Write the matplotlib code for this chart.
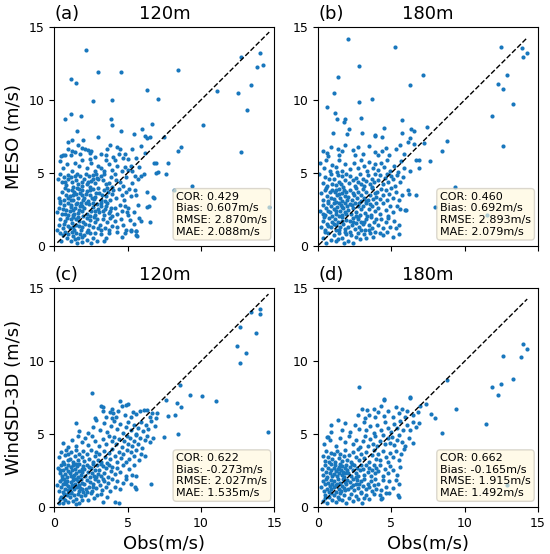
import numpy as np
import matplotlib
matplotlib.use("Agg")
import matplotlib.pyplot as plt

# (obs, model) pairs, one array per panel
pts_a = np.array([
    # y 0-1
    (0.45, 0.35), (0.6, 0.75), (0.85, 0.55), (0.35, 0.9), (0.7, 0.95), (0.95, 0.8),
    (1.1, 0.3), (1.3, 0.65), (1.45, 0.9), (1.6, 0.5), (1.75, 0.8), (1.9, 0.25), (1.2, 0.95),
    (1.55, 0.15), (1.85, 0.6), (1.4, 0.45),
    (2.05, 0.7), (2.25, 0.4), (2.4, 0.85), (2.6, 0.55), (2.75, 0.9), (2.2, 0.95), (2.9, 0.35), (2.5, 0.2),
    (3.2, 0.8), (3.5, 0.55), (3.75, 0.9), (3.35, 0.35),
    (4.3, 0.95), (4.6, 0.6), (4.8, 0.85), (5.2, 1.0), (5.6, 0.7), (5.55, 1.0),
    # y 1-2
    (0.3, 1.4), (0.55, 1.2), (0.7, 1.7), (0.9, 1.35), (0.4, 1.85), (0.65, 1.5), (0.85, 1.9), (0.2, 1.1),
    (1.05, 1.2), (1.2, 1.55), (1.35, 1.1), (1.5, 1.8), (1.65, 1.35), (1.8, 1.05), (1.95, 1.6), (1.1, 1.85),
    (1.3, 1.95), (1.45, 1.4), (1.7, 1.7), (1.85, 1.25), (1.6, 1.95), (1.25, 1.3),
    (2.1, 1.5), (2.3, 1.1), (2.45, 1.75), (2.6, 1.3), (2.8, 1.6), (2.95, 1.2), (2.2, 1.9), (2.7, 1.95),
    (2.35, 1.4), (2.9, 1.85),
    (3.1, 1.4), (3.3, 1.8), (3.45, 1.2), (3.6, 1.6), (3.8, 1.9), (3.95, 1.35), (3.2, 1.05), (3.7, 1.1),
    (4.1, 1.7), (4.3, 1.25), (4.55, 1.85), (4.7, 1.4), (4.85, 1.1),
    (5.15, 1.75), (5.4, 1.5), (5.8, 1.9), (6.5, 1.6),
    # y 2-3
    (0.3, 2.6), (0.5, 2.2), (0.65, 2.8), (0.8, 2.45), (0.95, 2.1), (0.4, 2.95), (0.55, 2.5), (0.75, 2.15),
    (0.9, 2.9), (0.2, 2.3),
    (1.05, 2.35), (1.15, 2.8), (1.3, 2.1), (1.4, 2.55), (1.55, 2.95), (1.6, 2.25), (1.75, 2.7), (1.85, 2.4),
    (1.95, 2.05), (1.1, 2.65), (1.25, 2.45), (1.45, 2.85), (1.65, 2.45), (1.8, 2.95), (1.35, 2.2), (1.9, 2.75),
    (2.05, 2.6), (2.2, 2.2), (2.35, 2.85), (2.5, 2.4), (2.65, 2.65), (2.8, 2.1), (2.95, 2.5), (2.15, 2.95),
    (2.4, 2.05), (2.6, 2.95), (2.75, 2.35), (2.9, 2.85),
    (3.05, 2.3), (3.2, 2.7), (3.35, 2.1), (3.45, 2.5), (3.6, 2.9), (3.7, 2.25), (3.85, 2.6), (3.95, 2.0),
    (3.15, 2.95), (3.5, 2.75), (3.8, 2.4), (3.3, 2.4),
    (4.1, 2.6), (4.3, 2.2), (4.45, 2.8), (4.6, 2.4), (4.8, 2.7), (4.95, 2.3),
    (5.0, 2.6), (5.4, 2.3), (5.7, 2.8), (6.3, 2.66), (6.48, 2.7),
    # y 3-4
    (0.3, 3.3), (0.5, 3.7), (0.65, 3.1), (0.8, 3.5), (0.95, 3.85), (0.4, 3.05), (0.7, 3.95), (0.9, 3.25),
    (1.05, 3.4), (1.2, 3.8), (1.3, 3.1), (1.45, 3.55), (1.6, 3.25), (1.7, 3.9), (1.85, 3.45), (1.95, 3.1),
    (1.15, 3.15), (1.35, 3.7), (1.55, 3.95), (1.75, 3.6), (1.9, 3.8), (1.25, 3.5),
    (2.05, 3.3), (2.2, 3.75), (2.3, 3.05), (2.45, 3.5), (2.6, 3.9), (2.7, 3.2), (2.85, 3.6), (2.95, 3.95),
    (2.15, 3.55), (2.55, 3.25), (2.8, 3.35), (2.4, 3.85),
    (3.05, 3.6), (3.2, 3.15), (3.35, 3.85), (3.5, 3.4), (3.65, 3.7), (3.8, 3.1), (3.95, 3.55), (3.25, 3.45),
    (3.6, 3.95), (3.45, 3.05),
    (4.0, 3.8), (4.2, 3.3), (4.4, 3.9), (4.6, 3.5), (4.75, 3.15), (4.9, 3.7),
    (5.1, 3.9), (5.2, 3.4), (5.5, 3.8), (5.6, 3.5), (6.3, 3.7), (6.7, 3.36), (6.82, 3.25),
    # y 4-5
    (0.25, 4.6), (0.5, 4.4), (0.65, 4.7), (0.8, 4.15), (0.95, 4.55), (0.4, 4.9), (0.7, 4.35), (0.9, 4.85),
    (1.1, 4.7), (1.3, 4.05), (1.45, 4.5), (1.6, 4.25), (1.75, 4.8), (1.9, 4.4), (1.2, 4.35), (1.55, 4.9),
    (1.85, 4.1), (1.4, 4.75),
    (2.05, 4.6), (2.2, 4.2), (2.35, 4.75), (2.5, 4.45), (2.65, 4.85), (2.75, 4.3), (2.9, 4.65), (2.15, 4.9),
    (2.45, 4.05), (2.6, 4.6), (2.85, 4.95), (2.3, 4.4),
    (3.0, 4.6), (3.2, 4.75), (3.3, 4.5), (3.5, 4.2), (3.7, 4.3), (3.85, 4.7), (3.95, 4.0), (3.4, 4.9),
    (4.2, 4.5), (4.5, 4.4), (4.7, 4.1), (4.1, 4.9), (4.85, 4.7),
    (5.5, 4.8), (5.9, 4.8), (5.3, 4.3), (5.7, 4.6), (6.1, 4.9), (6.9, 5.0),
    # y 5-6
    (0.35, 5.8), (0.6, 5.3), (0.85, 5.6), (1.4, 5.7), (1.7, 5.5), (1.2, 5.15), (1.9, 5.9),
    (2.5, 5.7), (2.2, 5.3), (2.8, 5.1), (2.4, 5.95),
    (3.0, 5.5), (3.4, 5.1), (3.7, 5.6), (3.9, 5.2), (3.5, 5.85), (3.2, 5.3),
    (4.3, 5.5), (4.8, 5.4), (4.1, 5.9), (4.6, 5.15), (5.0, 5.2),
    (5.2, 5.5), (5.8, 5.4), (5.3, 5.1), (5.0, 5.95),
    (6.82, 5.64), (6.95, 5.7), (7.64, 4.91), (7.75, 5.64), (7.05, 5.05),
    # y 6-7
    (0.45, 6.15), (0.6, 6.2), (0.75, 6.2), (1.1, 6.2), (0.9, 6.6),
    (1.2, 6.5), (1.4, 6.45), (1.9, 6.7), (1.6, 6.9), (1.75, 6.3),
    (2.1, 6.6), (2.3, 6.55), (2.5, 6.5), (2.4, 6.35), (2.75, 6.1),
    (3.2, 6.3), (3.5, 6.2), (3.6, 6.6), (3.8, 6.9),
    (4.0, 6.1), (4.3, 6.8), (4.5, 6.6), (4.4, 6.3), (4.7, 6.0), (4.8, 6.3), (5.6, 6.0), (5.3, 6.6),
    # sparse
    (2.16, 13.4), (2.95, 11.9), (4.55, 11.9), (1.14, 11.43), (1.45, 11.16), (8.45, 12.05),
    (12.73, 12.95), (14.05, 13.2), (13.86, 12.27), (14.25, 12.39), (13.45, 11.0), (12.55, 10.5),
    (11.07, 10.6), (13.14, 9.34), (12.73, 6.43), (10.14, 8.3), (6.32, 10.68), (7.05, 10.05),
    (3.93, 10.0), (2.64, 9.93), (1.14, 9.07), (0.75, 8.68), (1.84, 8.89), (3.86, 8.66), (3.93, 8.25),
    (1.57, 7.86), (4.55, 7.84), (2.95, 7.43), (0.91, 7.11), (1.23, 7.27), (1.98, 7.23), (5.45, 7.64),
    (5.95, 8.02), (6.64, 8.32), (6.16, 7.52), (6.3, 7.41), (6.52, 7.45), (7.5, 7.45), (5.93, 6.82),
    (6.2, 6.39), (8.41, 6.48), (8.66, 6.77), (5.9, 1.66), (8.18, 3.82), (9.36, 4.09), (14.66, 2.68),
    (5.59, 1.02), (5.23, 1.05), (5.64, 0.68), (5.0, 2.11),
])

pts_b = np.array([
    # y 0-1
    (0.3, 0.55), (0.55, 0.2), (0.7, 0.85), (0.9, 0.4), (0.45, 0.95),
    (1.1, 0.7), (1.25, 0.3), (1.45, 0.9), (1.6, 0.55), (1.75, 0.2), (1.9, 0.8), (1.35, 0.45), (1.8, 0.95),
    (2.05, 0.35), (2.25, 0.75), (2.4, 0.2), (2.55, 0.6), (2.7, 0.9), (2.85, 0.45), (2.2, 0.95),
    (3.1, 0.8), (3.3, 0.5), (3.55, 0.85), (3.75, 0.6), (3.9, 0.95),
    (4.2, 0.9), (4.45, 0.7), (4.7, 0.95), (5.1, 0.6),
    # y 1-2
    (0.2, 1.3), (0.35, 1.7), (0.5, 1.1), (0.6, 1.5), (0.75, 1.9), (0.85, 1.25), (0.95, 1.6), (0.4, 1.95),
    (0.7, 1.35),
    (1.05, 1.45), (1.15, 1.85), (1.25, 1.1), (1.35, 1.6), (1.5, 1.3), (1.6, 1.95), (1.7, 1.5), (1.8, 1.15),
    (1.9, 1.75), (1.45, 1.05), (1.2, 1.4), (1.65, 1.7),
    (2.05, 1.25), (2.15, 1.7), (2.3, 1.4), (2.4, 1.9), (2.5, 1.15), (2.6, 1.55), (2.7, 1.85), (2.8, 1.3),
    (2.9, 1.65), (2.95, 1.05), (2.35, 1.6), (2.75, 1.95),
    (3.05, 1.5), (3.2, 1.1), (3.3, 1.8), (3.45, 1.4), (3.6, 1.95), (3.7, 1.2), (3.8, 1.6), (3.95, 1.85),
    (3.5, 1.05), (3.15, 1.65),
    (4.1, 1.4), (4.3, 1.85), (4.45, 1.2), (4.6, 1.6), (4.8, 1.9), (4.9, 1.3),
    (5.15, 1.7), (5.3, 1.2), (5.55, 1.4),
    # y 2-3
    (0.15, 2.4), (0.3, 2.8), (0.45, 2.1), (0.55, 2.55), (0.7, 2.95), (0.8, 2.3), (0.9, 2.7), (0.35, 2.15),
    (0.65, 2.4), (0.95, 2.05),
    (1.05, 2.5), (1.1, 2.9), (1.2, 2.2), (1.3, 2.65), (1.4, 2.95), (1.5, 2.35), (1.55, 2.8), (1.65, 2.1),
    (1.7, 2.55), (1.8, 2.9), (1.85, 2.3), (1.95, 2.7), (1.25, 2.4), (1.45, 2.05), (1.6, 2.65), (1.9, 2.15),
    (2.05, 2.45), (2.15, 2.85), (2.25, 2.15), (2.4, 2.6), (2.5, 2.95), (2.6, 2.3), (2.7, 2.7), (2.85, 2.1),
    (2.95, 2.5), (2.3, 2.8), (2.55, 2.05), (2.8, 2.9),
    (3.05, 2.7), (3.2, 2.25), (3.3, 2.9), (3.45, 2.5), (3.6, 2.1), (3.7, 2.75), (3.85, 2.4), (3.95, 2.95),
    (3.35, 2.05), (3.55, 2.85),
    (4.1, 2.6), (4.25, 2.2), (4.4, 2.9), (4.6, 2.45), (4.75, 2.05), (4.9, 2.7),
    (5.1, 2.3), (5.35, 2.75), (5.6, 2.5),
    # y 3-4
    (0.2, 3.6), (0.35, 3.15), (0.45, 3.8), (0.6, 3.4), (0.7, 3.05), (0.8, 3.7), (0.9, 3.3), (0.55, 3.95),
    (0.95, 3.85),
    (1.05, 3.2), (1.15, 3.65), (1.25, 3.0), (1.3, 3.45), (1.4, 3.9), (1.5, 3.25), (1.6, 3.6), (1.65, 3.05),
    (1.75, 3.8), (1.85, 3.4), (1.95, 3.15), (1.2, 3.85), (1.45, 3.55), (1.9, 3.7),
    (2.05, 3.35), (2.2, 3.8), (2.3, 3.1), (2.45, 3.5), (2.55, 3.95), (2.65, 3.25), (2.75, 3.65), (2.9, 3.05),
    (2.95, 3.45), (2.35, 3.6),
    (3.05, 3.9), (3.15, 3.3), (3.3, 3.7), (3.4, 3.1), (3.55, 3.5), (3.65, 3.95), (3.75, 3.2), (3.85, 3.6),
    (3.95, 3.35), (3.25, 3.05),
    (4.05, 3.7), (4.2, 3.2), (4.3, 3.9), (4.45, 3.45), (4.6, 3.8), (4.7, 3.1), (4.85, 3.55), (4.95, 3.95),
    (5.1, 3.3), (5.3, 3.7), (5.5, 3.15), (5.7, 3.5),
    # y 4-5
    (0.05, 4.95), (0.3, 4.3), (0.45, 4.7), (0.6, 4.1), (0.75, 4.55), (0.85, 4.9), (0.95, 4.25),
    (1.1, 4.6), (1.2, 4.15), (1.35, 4.85), (1.45, 4.4), (1.6, 4.75), (1.7, 4.05), (1.8, 4.5), (1.9, 4.9),
    (1.55, 4.25),
    (2.1, 4.3), (2.2, 4.8), (2.35, 4.5), (2.5, 4.1), (2.6, 4.65), (2.75, 4.35), (2.85, 4.9), (2.95, 4.2),
    (3.05, 4.6), (3.15, 4.1), (3.3, 4.45), (3.4, 4.85), (3.55, 4.25), (3.65, 4.6), (3.8, 4.4), (3.9, 4.9),
    (3.7, 4.05),
    (4.1, 4.5), (4.25, 4.85), (4.4, 4.2), (4.55, 4.65), (4.7, 4.95), (4.8, 4.35), (4.95, 4.75),
    (5.1, 4.6), (5.25, 4.1), (5.4, 4.85), (5.6, 4.4), (5.8, 4.7),
    # y 5-6
    (0.1, 5.7), (0.4, 5.3), (0.55, 5.85), (0.8, 5.1), (0.95, 5.55),
    (1.2, 5.4), (1.4, 5.9), (1.6, 5.15), (1.85, 5.6), (1.3, 5.05),
    (2.2, 5.25), (2.45, 5.7), (2.7, 5.35), (2.9, 5.85),
    (3.1, 5.45), (3.35, 5.1), (3.5, 5.75), (3.75, 5.3), (3.9, 5.6),
    (4.1, 5.2), (4.3, 5.65), (4.5, 5.4), (4.7, 5.9), (4.9, 5.15),
    (5.2, 5.5), (5.45, 5.05), (5.65, 5.8), (5.85, 5.35),
    # y 6-7
    (0.34, 6.48), (0.57, 6.35), (0.68, 6.12), (0.9, 6.8),
    (1.37, 6.64), (1.44, 6.19), (1.6, 6.48), (1.85, 6.9),
    (2.4, 6.57), (2.51, 6.19), (2.75, 6.75),
    (3.04, 6.3), (3.45, 6.85), (3.88, 6.41),
    (4.1, 6.19), (4.34, 6.53), (4.6, 6.7), (4.85, 6.2),
    (5.3, 6.6), (5.6, 6.9), (5.85, 6.3),
    # sparse
    (2.05, 14.2), (5.27, 13.64), (2.77, 12.34), (1.36, 11.55), (1.07, 10.48), (3.68, 10.09),
    (6.27, 11.02), (7.18, 11.73), (0.57, 9.55), (2.77, 9.89), (1.16, 9.11), (1.3, 8.7), (2.95, 8.73),
    (1.82, 8.66), (1.77, 8.48), (2.09, 8.02), (1.95, 7.68), (0.98, 7.73), (2.98, 7.73), (4.5, 8.05),
    (3.86, 7.5), (3.89, 7.61), (4.36, 7.43), (5.75, 8.61), (5.75, 7.75), (6.36, 8.02), (6.57, 7.86),
    (7.41, 8.14), (6.3, 7.41), (6.14, 7.11), (6.55, 6.95), (7.2, 7.07), (8.77, 7.18), (8.48, 6.5),
    (7.66, 5.82), (6.86, 5.91), (6.7, 5.91), (6.27, 5.09), (6.89, 5.34), (6.14, 3.82), (6.2, 3.55),
    (6.68, 3.5), (5.91, 2.43), (6.02, 2.43), (8.0, 2.68), (5.5, 0.8), (9.36, 4.05), (11.5, 2.11),
    (12.5, 13.64), (13.9, 13.59), (14.25, 13.2), (13.95, 12.95), (12.86, 11.73), (12.27, 11.09),
    (12.59, 10.77), (13.27, 9.73), (11.89, 8.93), (12.59, 6.84),
])

pts_c = np.array([
    # y 0-1
    (0.3, 0.3), (0.45, 0.7), (0.55, 0.25), (0.65, 0.9), (0.75, 0.5), (0.85, 0.8), (0.95, 0.35), (0.4, 0.55),
    (0.6, 0.6), (0.9, 0.95),
    (1.05, 0.65), (1.15, 0.95), (1.25, 0.4), (1.35, 0.8), (1.5, 0.55), (1.6, 0.9), (1.7, 0.3), (1.8, 0.75),
    (1.9, 0.5), (1.45, 0.2),
    (2.1, 0.85), (2.3, 0.45), (2.5, 0.95), (2.7, 0.6), (2.9, 0.8), (3.2, 0.9), (3.6, 0.7),
    # y 1-2
    (0.2, 1.5), (0.3, 1.1), (0.4, 1.8), (0.45, 1.35), (0.55, 1.6), (0.6, 1.05), (0.65, 1.9), (0.7, 1.25),
    (0.8, 1.55), (0.85, 1.8), (0.9, 1.15), (0.95, 1.45), (0.5, 1.95), (0.75, 1.7),
    (1.05, 1.3), (1.1, 1.7), (1.15, 1.05), (1.2, 1.5), (1.3, 1.85), (1.35, 1.2), (1.4, 1.6), (1.5, 1.95),
    (1.55, 1.35), (1.6, 1.75), (1.65, 1.1), (1.7, 1.5), (1.8, 1.9), (1.85, 1.25), (1.9, 1.65), (1.95, 1.05),
    (1.25, 1.4), (1.75, 1.3),
    (2.05, 1.55), (2.15, 1.2), (2.25, 1.85), (2.35, 1.4), (2.45, 1.7), (2.55, 1.1), (2.65, 1.6), (2.75, 1.95),
    (2.85, 1.3), (2.95, 1.75), (2.2, 1.05), (2.6, 1.35),
    (3.1, 1.5), (3.25, 1.15), (3.4, 1.8), (3.5, 1.35), (3.65, 1.65), (3.8, 1.1), (3.9, 1.9), (3.3, 1.95),
    (4.1, 1.4), (4.3, 1.8), (4.5, 1.25), (4.7, 1.65), (4.9, 1.95), (5.2, 1.6), (5.5, 1.35),
    # y 2-3
    (0.25, 2.7), (0.35, 2.3), (0.45, 2.85), (0.5, 2.1), (0.6, 2.55), (0.65, 2.95), (0.7, 2.25), (0.8, 2.65),
    (0.85, 2.05), (0.9, 2.45), (0.95, 2.85), (0.4, 2.5),
    (1.05, 2.3), (1.1, 2.75), (1.15, 2.1), (1.2, 2.5), (1.3, 2.9), (1.35, 2.2), (1.4, 2.6), (1.5, 2.35),
    (1.55, 2.8), (1.6, 2.05), (1.65, 2.45), (1.7, 2.95), (1.8, 2.2), (1.85, 2.6), (1.9, 2.4), (1.95, 2.8),
    (1.25, 2.05), (1.45, 2.95),
    (2.05, 2.6), (2.1, 2.15), (2.2, 2.85), (2.3, 2.4), (2.4, 2.05), (2.5, 2.7), (2.55, 2.3), (2.65, 2.95),
    (2.7, 2.15), (2.8, 2.55), (2.9, 2.85), (2.95, 2.25), (2.35, 2.75), (2.85, 2.05),
    (3.05, 2.5), (3.15, 2.1), (3.3, 2.8), (3.4, 2.35), (3.55, 2.65), (3.65, 2.05), (3.75, 2.9), (3.85, 2.45),
    (3.95, 2.75), (3.2, 2.95),
    (4.1, 2.25), (4.3, 2.7), (4.5, 2.4), (4.7, 2.9), (4.85, 2.15), (5.1, 2.6), (5.4, 2.85),
    # y 3-4
    (0.3, 3.4), (0.45, 3.75), (0.55, 3.1), (0.7, 3.55), (0.8, 3.9), (0.9, 3.25), (0.95, 3.65),
    (1.05, 3.3), (1.15, 3.8), (1.25, 3.05), (1.4, 3.5), (1.5, 3.9), (1.6, 3.2), (1.7, 3.65), (1.85, 3.4),
    (1.95, 3.85),
    (2.05, 3.15), (2.2, 3.6), (2.35, 3.3), (2.5, 3.9), (2.6, 3.05), (2.75, 3.5), (2.85, 3.75), (2.95, 3.25),
    (3.05, 3.65), (3.2, 3.1), (3.35, 3.85), (3.45, 3.4), (3.6, 3.0), (3.7, 3.7), (3.8, 3.3), (3.95, 3.95),
    (4.1, 3.5), (4.25, 3.1), (4.4, 3.8), (4.55, 3.35), (4.7, 3.65), (4.85, 3.05), (4.95, 3.9),
    (5.1, 3.3), (5.25, 3.75), (5.4, 3.5), (5.6, 3.9), (5.75, 3.2), (5.9, 3.6), (6.2, 3.5),
    # y 4-5
    (0.6, 4.4), (0.9, 4.1), (1.2, 4.6), (1.45, 4.2), (1.6, 4.85), (1.85, 4.45),
    (2.1, 4.7), (2.3, 4.25), (2.55, 4.9), (2.8, 4.5),
    (3.05, 4.15), (3.3, 4.65), (3.5, 4.35), (3.7, 4.9), (3.9, 4.5),
    (4.05, 4.8), (4.2, 4.3), (4.4, 4.65), (4.6, 4.1), (4.75, 4.5), (4.95, 4.9),
    (5.05, 4.35), (5.15, 4.75), (5.3, 4.15), (5.45, 4.55), (5.55, 4.95), (5.7, 4.3), (5.85, 4.7), (5.95, 4.05),
    (6.15, 4.6), (6.35, 4.9), (6.5, 4.45), (6.7, 4.75),
    # y 5-6
    (1.44, 5.75), (1.7, 5.2), (2.3, 5.1), (2.6, 5.5), (2.87, 5.98),
    (3.1, 5.3), (3.35, 5.75), (3.6, 5.15), (3.85, 5.55),
    (4.05, 5.9), (4.25, 5.35), (4.45, 5.7), (4.65, 5.05), (4.85, 5.5),
    (5.05, 5.8), (5.2, 5.25), (5.4, 5.6), (5.55, 5.0), (5.7, 5.45), (5.9, 5.85),
    (6.05, 5.2), (6.25, 5.65), (6.4, 5.35), (6.6, 5.9), (6.85, 5.55),
    # y 6-7
    (2.8, 6.1), (3.21, 6.9), (3.33, 6.6), (3.5, 6.2), (3.78, 6.5), (3.95, 6.1),
    (4.0, 6.44), (4.36, 6.6), (4.59, 6.9), (4.2, 6.15), (4.8, 6.3),
    (5.05, 7.06), (5.34, 6.55), (5.2, 6.2), (5.6, 6.35), (5.85, 6.6),
    (6.08, 6.67), (6.3, 6.67), (6.95, 6.1), (6.5, 6.2),
    # sparse
    (14.05, 13.56), (13.41, 13.38), (14.0, 13.26), (12.68, 12.34), (13.77, 11.95), (12.48, 11.03),
    (13.09, 10.57), (12.68, 9.89), (8.59, 8.39), (9.27, 7.7), (10.09, 7.59), (11.0, 7.24), (8.36, 7.13),
    (8.64, 6.83), (7.59, 7.36), (7.75, 6.21), (8.2, 6.28), (7.0, 6.44), (7.48, 4.83), (8.41, 5.01),
    (14.61, 5.15), (6.61, 1.56), (5.57, 1.2), (5.55, 2.14), (5.3, 2.18), (2.57, 7.82), (4.5, 7.24),
    (4.89, 6.97), (3.3, 6.85), (3.93, 6.74), (6.68, 6.46), (4.16, 0.34), (4.39, 0.28), (3.3, 0.34),
])

pts_d = np.array([
    # y 0-1
    (0.35, 0.4), (0.5, 0.8), (0.6, 0.3), (0.75, 0.65), (0.85, 0.95), (0.95, 0.5), (0.45, 0.6),
    (1.1, 0.85), (1.2, 0.35), (1.35, 0.7), (1.5, 0.95), (1.65, 0.5), (1.75, 0.8), (1.9, 0.25), (1.4, 0.55),
    (2.1, 0.6), (2.25, 0.9), (2.4, 0.4), (2.6, 0.75), (2.75, 0.55), (2.9, 0.95),
    (3.3, 0.8), (3.5, 0.55), (3.8, 0.9), (4.2, 0.85), (4.6, 0.95),
    # y 1-2
    (0.2, 1.4), (0.3, 1.8), (0.4, 1.1), (0.45, 1.55), (0.55, 1.95), (0.6, 1.25), (0.7, 1.65), (0.75, 1.05),
    (0.8, 1.45), (0.85, 1.85), (0.9, 1.2), (0.95, 1.6),
    (1.05, 1.35), (1.1, 1.8), (1.2, 1.05), (1.25, 1.5), (1.35, 1.9), (1.4, 1.25), (1.5, 1.65), (1.55, 1.1),
    (1.6, 1.45), (1.7, 1.95), (1.75, 1.3), (1.8, 1.7), (1.85, 1.15), (1.9, 1.55), (1.95, 1.85), (1.3, 1.6),
    (2.05, 1.25), (2.15, 1.7), (2.25, 1.4), (2.35, 1.9), (2.45, 1.15), (2.55, 1.55), (2.65, 1.85), (2.7, 1.3),
    (2.8, 1.6), (2.9, 1.05), (2.95, 1.75), (2.4, 1.5),
    (3.05, 1.45), (3.15, 1.9), (3.25, 1.2), (3.4, 1.6), (3.5, 1.35), (3.6, 1.8), (3.7, 1.1), (3.8, 1.5),
    (3.9, 1.9), (3.95, 1.25),
    (4.1, 1.6), (4.3, 1.15), (4.45, 1.85), (4.65, 1.4), (4.85, 1.75), (5.1, 1.3), (5.3, 1.85), (5.5, 1.55),
    # y 2-3
    (0.25, 2.6), (0.35, 2.2), (0.45, 2.85), (0.55, 2.4), (0.6, 2.05), (0.7, 2.7), (0.8, 2.3), (0.85, 2.95),
    (0.9, 2.5), (0.95, 2.15),
    (1.05, 2.65), (1.1, 2.25), (1.15, 2.9), (1.25, 2.45), (1.3, 2.1), (1.4, 2.75), (1.45, 2.35), (1.5, 2.95),
    (1.55, 2.55), (1.6, 2.2), (1.65, 2.8), (1.7, 2.4), (1.75, 2.05), (1.8, 2.65), (1.85, 2.3), (1.9, 2.85),
    (1.95, 2.5), (1.35, 2.6),
    (2.05, 2.3), (2.15, 2.75), (2.25, 2.1), (2.35, 2.55), (2.45, 2.9), (2.55, 2.35), (2.65, 2.7), (2.75, 2.15),
    (2.85, 2.5), (2.95, 2.85), (2.3, 2.95), (2.6, 2.05),
    (3.05, 2.6), (3.15, 2.2), (3.3, 2.85), (3.4, 2.4), (3.5, 2.7), (3.6, 2.1), (3.7, 2.55), (3.8, 2.9),
    (3.9, 2.3), (3.95, 2.65),
    (4.1, 2.45), (4.25, 2.85), (4.4, 2.15), (4.55, 2.6), (4.75, 2.35), (4.9, 2.8),
    (5.1, 2.5), (5.35, 2.2), (5.6, 2.75),
    # y 3-4
    (0.3, 3.5), (0.45, 3.15), (0.55, 3.85), (0.65, 3.4), (0.75, 3.05), (0.85, 3.7), (0.95, 3.3),
    (1.05, 3.6), (1.15, 3.1), (1.3, 3.85), (1.4, 3.35), (1.5, 3.65), (1.6, 3.15), (1.75, 3.5), (1.85, 3.9),
    (1.95, 3.25),
    (2.1, 3.55), (2.25, 3.1), (2.4, 3.8), (2.55, 3.4), (2.7, 3.95), (2.8, 3.2), (2.95, 3.6),
    (3.1, 3.35), (3.3, 3.75), (3.5, 3.1), (3.65, 3.55), (3.8, 3.9), (3.95, 3.3),
    (4.1, 3.65), (4.25, 3.2), (4.45, 3.85), (4.6, 3.45), (4.75, 3.1), (4.9, 3.7),
    (5.1, 3.4), (5.3, 3.85), (5.5, 3.2), (5.65, 3.6), (5.85, 3.95),
    # y 4-5
    (0.4, 4.3), (0.8, 4.6), (1.2, 4.2), (1.5, 4.75), (1.8, 4.45),
    (2.1, 4.85), (2.35, 4.3), (2.6, 4.6), (2.85, 4.1),
    (3.05, 4.5), (3.2, 4.9), (3.4, 4.2), (3.55, 4.65), (3.75, 4.35), (3.9, 4.85),
    (4.05, 4.15), (4.25, 4.55), (4.4, 4.95), (4.55, 4.3), (4.75, 4.7), (4.9, 4.4),
    (5.05, 4.8), (5.2, 4.25), (5.4, 4.6), (5.55, 4.95), (5.75, 4.45), (5.9, 4.15),
    (6.2, 4.7), (6.45, 4.4),
    # y 5-6
    (0.9, 5.6), (1.6, 5.3), (1.85, 5.75),
    (2.2, 5.15), (2.5, 5.6), (2.8, 5.35),
    (3.1, 5.8), (3.3, 5.25), (3.55, 5.55), (3.8, 5.1),
    (4.05, 5.65), (4.3, 5.3), (4.55, 5.85), (4.8, 5.45),
    (5.0, 5.15), (5.2, 5.7), (5.4, 5.4), (5.6, 5.9), (5.8, 5.25),
    (6.05, 5.6), (6.25, 5.3), (6.45, 5.85), (6.65, 5.5), (6.9, 5.75),
    # y 6-7
    (2.98, 6.74), (2.7, 6.3),
    (3.33, 6.67), (3.5, 6.3), (3.78, 6.74), (3.9, 6.2), (3.2, 6.1),
    (4.1, 6.5), (4.3, 6.9), (4.5, 6.25), (4.75, 6.6), (4.47, 7.36),
    (5.28, 6.83), (5.1, 6.2), (5.5, 6.45), (5.7, 6.75), (5.9, 6.15),
    (6.05, 6.6), (6.3, 7.5), (6.5, 6.3), (6.8, 6.55), (6.95, 6.9),
    # sparse
    (13.98, 11.2), (14.27, 10.87), (13.86, 10.28), (12.59, 10.34), (13.27, 8.8), (12.5, 8.44),
    (11.89, 8.25), (12.27, 7.7), (11.48, 5.7), (12.89, 1.49), (8.8, 8.69), (9.39, 6.69), (7.98, 6.09),
    (7.68, 6.41), (7.39, 7.1), (8.48, 5.07), (2.8, 8.23), (4.48, 7.38), (6.27, 7.52), (1.36, 5.98),
    (0.86, 5.11), (0.57, 4.83), (0.68, 4.78), (4.84, 0.97), (5.45, 0.8), (5.5, 0.69), (4.36, 0.62),
    (4.32, 0.51), (3.14, 0.64), (3.0, 0.28),
])

panels = [pts_a, pts_b, pts_c, pts_d]
letters = ["(a)", "(b)", "(c)", "(d)"]
heights = ["120m", "180m", "120m", "180m"]
ylabels = ["MESO (m/s)", "", "WindSD-3D (m/s)", ""]
stats = [
    ("0.429", "0.607", "2.870", "2.088"),
    ("0.460", "0.692", "2.893", "2.079"),
    ("0.622", "-0.273", "2.027", "1.535"),
    ("0.662", "-0.165", "1.915", "1.492"),
]

fig, axes = plt.subplots(2, 2, figsize=(5.5, 5.54), dpi=100, sharex=True)
fig.subplots_adjust(left=0.099, right=0.978, bottom=0.085, top=0.951, wspace=0.2, hspace=0.196)

for i, ax in enumerate(axes.flat):
    pts = panels[i]
    obs, mod = pts[:, 0], pts[:, 1]
    ax.scatter(obs, mod, s=9, color="#1877bd", linewidths=0, zorder=2)
    lo, hi = obs.min(), obs.max()
    ax.plot([lo, hi], [lo, hi], "k--", lw=1, zorder=3)
    ax.set_xlim(0, 15)
    ax.set_ylim(0, 15)
    ax.set_xticks([0, 5, 10, 15])
    ax.set_yticks([0, 5, 10, 15])
    ax.tick_params(labelsize=9)
    ax.set_title(heights[i], fontsize=13)
    ax.set_title(letters[i], loc="left", fontsize=13)
    if ylabels[i]:
        ax.set_ylabel(ylabels[i], fontsize=13)
    if i >= 2:
        ax.set_xlabel("Obs(m/s)", fontsize=13)
    cor, bias, rmse, mae = stats[i]
    txt = f"COR: {cor}\nBias: {bias}m/s\nRMSE: {rmse}m/s\nMAE: {mae}m/s"
    ax.text(0.555, 0.05, txt, transform=ax.transAxes, fontsize=8, zorder=5,
            bbox=dict(boxstyle="round", facecolor="cornsilk", edgecolor="#c8c4b8", alpha=0.65))

fig.savefig("out.png", dpi=100)
